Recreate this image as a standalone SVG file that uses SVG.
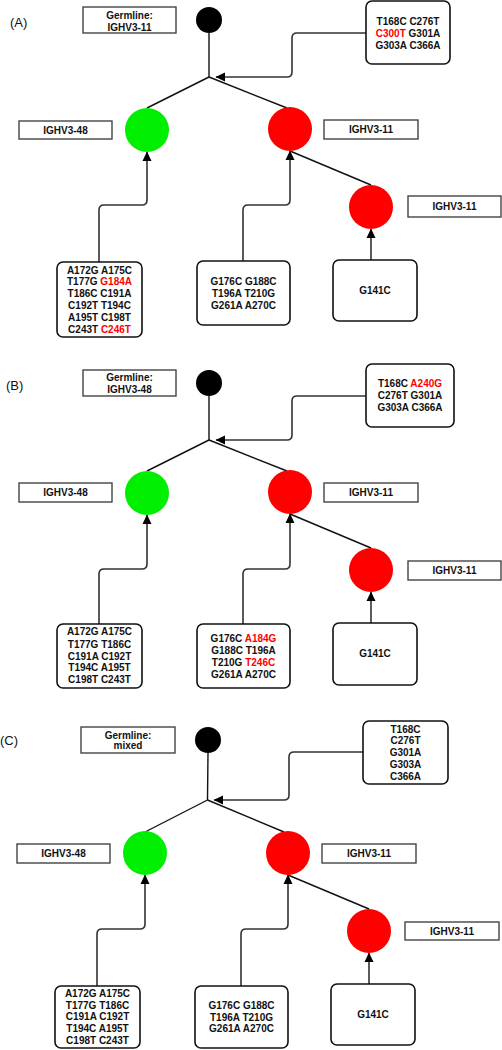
<svg xmlns="http://www.w3.org/2000/svg" width="502" height="1050" viewBox="0 0 502 1050">
<style>
text{font-family:"Liberation Sans",Arial,sans-serif;font-size:10px;font-weight:bold;fill:#111;text-anchor:middle}
.pl{font-size:13px;font-weight:normal;text-anchor:start}
.r{fill:#ff0000}
.lab{fill:#fff;stroke:#444;stroke-width:1.4}
.mut{fill:#fff;stroke:#111;stroke-width:1.6}
.tree{stroke:#111;stroke-width:1.4;fill:none}
.con{stroke:#333;stroke-width:1.6;fill:none;marker-end:url(#ah)}
.g{fill:#00ee00}
.rd{fill:#ff0000}
.bk{fill:#000}
</style>
<defs>
<marker id="ah" markerUnits="userSpaceOnUse" markerWidth="10" markerHeight="10" refX="9" refY="5" orient="auto" viewBox="0 0 10 10">
<path d="M0,0.5 L9.5,5 L0,9.5 Z" fill="#000"/>
</marker>
</defs>

<!-- Panel labels -->
<text class="pl" x="10" y="27">(A)</text>
<text class="pl" x="6" y="390">(B)</text>
<text class="pl" x="0" y="745">(C)</text>

<!-- Connectors -->
<g id="connectors">
<!-- A -->
<line class="tree" x1="209" y1="33" x2="209" y2="77"/>
<line class="tree" x1="209" y1="77" x2="147" y2="108"/>
<line class="tree" x1="209" y1="77" x2="287" y2="108"/>
<line class="tree" x1="290" y1="151" x2="371" y2="185"/>
<path class="con" d="M366,33 H297 Q292,33 292,38 V72 Q292,77 287,77 H216"/>
<path class="con" d="M99,262 V210 Q99,205 104,205 H142 Q147,205 147,200 V152"/>
<path class="con" d="M243,261 V210 Q243,205 248,205 H285 Q290,205 290,200 V151"/>
<path class="con" d="M371,260 V229"/>
<!-- B -->
<line class="tree" x1="209" y1="396" x2="209" y2="440"/>
<line class="tree" x1="209" y1="440" x2="147" y2="471"/>
<line class="tree" x1="209" y1="440" x2="287" y2="471"/>
<line class="tree" x1="290" y1="514" x2="371" y2="548"/>
<path class="con" d="M366,396 H297 Q292,396 292,401 V435 Q292,440 287,440 H216"/>
<path class="con" d="M99,624 V574 Q99,569 104,569 H142 Q147,569 147,564 V515"/>
<path class="con" d="M243,624 V574 Q243,569 248,569 H285 Q290,569 290,564 V514"/>
<path class="con" d="M371,623 V592"/>
<!-- C -->
<line class="tree" x1="208" y1="753" x2="207.5" y2="800"/>
<line class="tree" x1="207.5" y1="800" x2="145" y2="832"/>
<line class="tree" x1="207.5" y1="800" x2="284" y2="832"/>
<line class="tree" x1="288" y1="875" x2="369" y2="909"/>
<path class="con" d="M363,752 H294 Q289,752 289,757 V795 Q289,800 284,800 H214"/>
<path class="con" d="M97,986 V934 Q97,929 102,929 H140 Q145,929 145,924 V875"/>
<path class="con" d="M241,986 V934 Q241,929 246,929 H283 Q288,929 288,924 V875"/>
<path class="con" d="M369,984 V953"/>
</g>

<!-- ===== Panel A ===== -->
<g id="A-germline-label"><rect class="lab" x="83" y="7" width="93" height="26"/><text x="129.5" y="18.6">Germline:</text><text x="129.5" y="30.6">IGHV3-11</text></g>
<g id="A-root"><circle class="bk" cx="209" cy="20" r="13"/></g>
<g id="A-mut-root"><rect class="mut" x="366" y="1" width="84" height="63" rx="6"/><text x="408" y="24.6">T168C C276T</text><text x="408" y="36.6"><tspan class="r">C300T</tspan> G301A</text><text x="408" y="48.6">G303A C366A</text></g>
<g id="A-green"><circle class="g" cx="147" cy="130" r="22"/></g>
<g id="A-green-label"><rect class="lab" x="19" y="121" width="93" height="18"/><text x="65.5" y="133.6">IGHV3-48</text></g>
<g id="A-red"><circle class="rd" cx="290" cy="129" r="22"/></g>
<g id="A-red-label"><rect class="lab" x="324" y="120" width="94" height="19"/><text x="371" y="133.2">IGHV3-11</text></g>
<g id="A-red2"><circle class="rd" cx="371" cy="207" r="22"/></g>
<g id="A-red2-label"><rect class="lab" x="408" y="196" width="93" height="21"/><text x="454.5" y="210">IGHV3-11</text></g>
<g id="A-mut-red2"><rect class="mut" x="333" y="260" width="84" height="61" rx="6"/><text x="375" y="293.6">G141C</text></g>
<g id="A-mut-red"><rect class="mut" x="197" y="261" width="93" height="64" rx="6"/><text x="243.5" y="284.5">G176C G188C</text><text x="243.5" y="296.7">T196A T210G</text><text x="243.5" y="308.9">G261A A270C</text></g>
<g id="A-mut-green"><rect class="mut" x="57" y="262" width="85" height="75" rx="6"/><text x="99.5" y="273.6">A172G A175C</text><text x="99.5" y="285.4">T177G <tspan class="r">G184A</tspan></text><text x="99.5" y="297.2">T186C C191A</text><text x="99.5" y="309">C192T T194C</text><text x="99.5" y="320.8">A195T C198T</text><text x="99.5" y="332.6">C243T <tspan class="r">C246T</tspan></text></g>

<!-- ===== Panel B ===== -->
<g id="B-germline-label"><rect class="lab" x="83" y="370" width="93" height="26"/><text x="129.5" y="380.8">Germline:</text><text x="129.5" y="392.6">IGHV3-48</text></g>
<g id="B-root"><circle class="bk" cx="209" cy="383" r="13"/></g>
<g id="B-mut-root"><rect class="mut" x="366" y="364" width="88" height="63" rx="6"/><text x="410" y="387">T168C <tspan class="r">A240G</tspan></text><text x="410" y="399">C276T G301A</text><text x="410" y="411">G303A C366A</text></g>
<g id="B-green"><circle class="g" cx="147" cy="493" r="22"/></g>
<g id="B-green-label"><rect class="lab" x="19" y="483" width="93" height="19"/><text x="65.5" y="496">IGHV3-48</text></g>
<g id="B-red"><circle class="rd" cx="290" cy="492" r="22"/></g>
<g id="B-red-label"><rect class="lab" x="324" y="483" width="94" height="19"/><text x="371" y="496">IGHV3-11</text></g>
<g id="B-red2"><circle class="rd" cx="371" cy="570" r="22"/></g>
<g id="B-red2-label"><rect class="lab" x="408" y="561" width="93" height="19"/><text x="454.5" y="574">IGHV3-11</text></g>
<g id="B-mut-red2"><rect class="mut" x="333" y="623" width="84" height="62" rx="6"/><text x="375" y="657">G141C</text></g>
<g id="B-mut-red"><rect class="mut" x="197" y="624" width="93" height="64" rx="6"/><text x="243.5" y="642">G176C <tspan class="r">A184G</tspan></text><text x="243.5" y="654.3">G188C T196A</text><text x="243.5" y="666.3">T210G <tspan class="r">T246C</tspan></text><text x="243.5" y="678.3">G261A A270C</text></g>
<g id="B-mut-green"><rect class="mut" x="57" y="624" width="85" height="64" rx="6"/><text x="99.5" y="635.3">A172G A175C</text><text x="99.5" y="647.5">T177G T186C</text><text x="99.5" y="659.5">C191A C192T</text><text x="99.5" y="671.3">T194C A195T</text><text x="99.5" y="683.3">C198T C243T</text></g>

<!-- ===== Panel C ===== -->
<g id="C-germline-label"><rect class="lab" x="81" y="727" width="94" height="26"/><text x="128" y="738.6">Germline:</text><text x="128" y="749.4">mixed</text></g>
<g id="C-root"><circle class="bk" cx="208" cy="740" r="13"/></g>
<g id="C-mut-root"><rect class="mut" x="363" y="721" width="85" height="63" rx="6"/><text x="405.5" y="732.6">T168C</text><text x="405.5" y="744.4">C276T</text><text x="405.5" y="756.2">G301A</text><text x="405.5" y="768">G303A</text><text x="405.5" y="779.8">C366A</text></g>
<g id="C-green"><circle class="g" cx="145" cy="853" r="22"/></g>
<g id="C-green-label"><rect class="lab" x="17" y="844" width="93" height="19"/><text x="63.5" y="857">IGHV3-48</text></g>
<g id="C-red"><circle class="rd" cx="288" cy="853" r="22"/></g>
<g id="C-red-label"><rect class="lab" x="322" y="844" width="94" height="19"/><text x="369" y="857">IGHV3-11</text></g>
<g id="C-red2"><circle class="rd" cx="369" cy="931" r="22"/></g>
<g id="C-red2-label"><rect class="lab" x="405" y="922" width="94" height="18"/><text x="452" y="934.6">IGHV3-11</text></g>
<g id="C-mut-red2"><rect class="mut" x="331" y="984" width="84" height="61" rx="6"/><text x="373" y="1017.6">G141C</text></g>
<g id="C-mut-red"><rect class="mut" x="195" y="986" width="93" height="62" rx="6"/><text x="241.5" y="1008.6">G176C G188C</text><text x="241.5" y="1020.6">T196A T210G</text><text x="241.5" y="1032.3">G261A A270C</text></g>
<g id="C-mut-green"><rect class="mut" x="55" y="986" width="85" height="62" rx="6"/><text x="97.5" y="997">A172G A175C</text><text x="97.5" y="1008.7">T177G T186C</text><text x="97.5" y="1020.4">C191A C192T</text><text x="97.5" y="1032.1">T194C A195T</text><text x="97.5" y="1043.8">C198T C243T</text></g>
</svg>
